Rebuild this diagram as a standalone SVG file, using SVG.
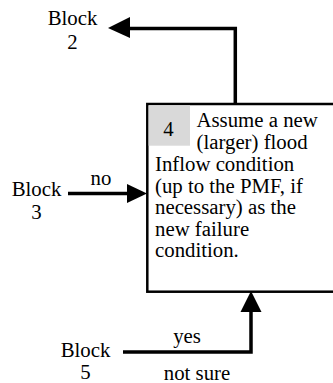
<svg xmlns="http://www.w3.org/2000/svg" width="333" height="383" viewBox="0 0 333 383">
<defs>
<style>
text{font-family:"Liberation Serif","Times New Roman",serif;font-size:20.8px;fill:#000}
.c{text-anchor:middle}
.ln{fill:none;stroke:#000;stroke-width:3.5}
.ah{fill:#000;stroke:none}
</style>
</defs>
<rect width="333" height="383" fill="#fff"/>
<g id="node4">
<rect x="147.3" y="104" width="200" height="187.7" fill="#fff" stroke="#000" stroke-width="2.5"/>
<rect x="148.6" y="105.3" width="41.4" height="40.4" fill="#d9d9d9"/>
<text class="c" x="168.5" y="136">4</text>
<text x="196.5" y="126.7">Assume a new</text>
<text x="196.5" y="148.5">(larger) flood</text>
<text x="155" y="171">Inflow condition</text>
<text x="155" y="192.5">(up to the PMF, if</text>
<text x="155" y="214">necessary) as the</text>
<text x="155" y="235.5">new failure</text>
<text x="155" y="257">condition.</text>
</g>
<g id="block2">
<text class="c" x="72.5" y="25">Block</text>
<text class="c" x="72.5" y="49">2</text>
</g>
<g id="block3">
<text class="c" x="36.5" y="196">Block</text>
<text class="c" x="36.5" y="219">3</text>
</g>
<g id="block5">
<text class="c" x="85.5" y="357">Block</text>
<text class="c" x="85.5" y="379">5</text>
</g>
<g id="connectors">
<polyline class="ln" points="235.3,104 235.3,28.5 128,28.5"/>
<polygon class="ah" points="108,28 130,17 130,38"/>
<line class="ln" x1="68" y1="193.5" x2="128" y2="193.5"/>
<polygon class="ah" points="147,193.5 127,184 127,203"/>
<text class="c" x="101" y="185">no</text>
<polyline class="ln" points="123,352 251,352 251,310"/>
<polygon class="ah" points="251,291 240.5,312 261.5,312"/>
<text class="c" x="187" y="343">yes</text>
<text class="c" x="197" y="380">not sure</text>
</g>
</svg>
